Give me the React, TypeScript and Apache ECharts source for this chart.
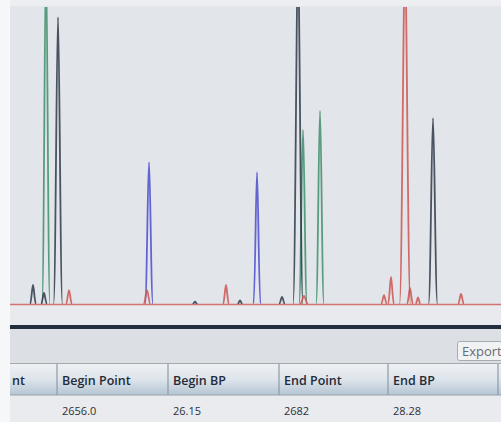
import React, { useEffect, useRef } from "react";
import * as echarts from "echarts";

// Peak data per dye channel: position (scan units), height (signal units), half-width (scan units)
const greenX = [36, 293, 310];
const greenH = [1150, 586, 650];
const greenW = [4, 4, 4];

const blueX = [139, 247];
const blueH = [478, 444];
const blueW = [4, 3.5];

const blackX = [23, 34, 48, 185, 230, 272, 288, 423];
const blackH = [64, 37, 966, 8, 12, 24, 1150, 626];
const blackW = [3, 3, 4.5, 2.5, 2.5, 3, 5, 4.5];

const redX = [59, 137, 216, 294, 374, 381, 395, 400, 408, 451];
const redH = [47, 47, 64, 27, 30, 91, 1150, 54, 22, 34];
const redW = [3, 3.5, 3, 4, 3, 3, 5.5, 3, 2.5, 3];

// Results table
const tableHeaders = ["nt", "Begin Point", "Begin BP", "End Point", "End BP"];
const tableRow = ["", "2656.0", "26.15", "2682", "28.28"];
const buttonLabel = "Export";

const colX = [10, 57, 168, 279, 388, 498];

function peakSeries(name: string, xs: number[], hs: number[], ws: number[], color: string) {
  return {
    name,
    type: "custom",
    clip: true,
    coordinateSystem: "cartesian2d",
    encode: { x: 0, y: 1 },
    data: xs.map((x, i) => [x, hs[i], ws[i]]),
    renderItem: (params: any, api: any) => {
      const c = api.value(0);
      const h = api.value(1);
      const w = api.value(2);
      const base = api.coord([c, 0]);
      const top = api.coord([c, h]);
      const hw = api.size([w, 0])[0];
      const xl = base[0] - hw;
      const xr = base[0] + hw;
      const yb = base[1];
      const yt = top[1];
      const d =
        `M${xl},${yb} C${xl + 0.45 * hw},${yb} ${base[0] - 0.3 * hw},${yt} ${base[0]},${yt} ` +
        `C${base[0] + 0.3 * hw},${yt} ${xr - 0.45 * hw},${yb} ${xr},${yb}`;
      return {
        type: "path",
        shape: { pathData: d },
        style: { stroke: color, fill: "none", lineWidth: 1.8, opacity: 0.85 },
      };
    },
  };
}

export default function App() {
  const ref = useRef<HTMLDivElement>(null);
  useEffect(() => {
    if (!ref.current) return;
    const chart = echarts.init(ref.current, undefined, { renderer: "svg" });

    const graphics: any[] = [];
    graphics.push({ type: "rect", shape: { x: 0, y: 0, width: 501, height: 6 }, style: { fill: "#eceef1" }, z: -1 });
    graphics.push({ type: "rect", shape: { x: 0, y: 305, width: 501, height: 20 }, style: { fill: "#e8eaed" } });
    graphics.push({ type: "rect", shape: { x: 0, y: 325, width: 501, height: 4 }, style: { fill: "#222d3f" } });
    graphics.push({ type: "rect", shape: { x: 0, y: 329, width: 501, height: 35 }, style: { fill: "#dcdfe3" } });
    graphics.push({ type: "line", shape: { x1: 0, y1: 363.5, x2: 501, y2: 363.5 }, style: { stroke: "#a4a9b0", lineWidth: 1 } });
    graphics.push({
      type: "rect",
      shape: { x: 0, y: 364, width: 501, height: 31 },
      style: {
        fill: new echarts.graphic.LinearGradient(0, 0, 0, 1, [
          { offset: 0, color: "#eef1f4" },
          { offset: 0.5, color: "#dde4eb" },
          { offset: 1, color: "#b5c5d3" },
        ]),
      },
    });
    graphics.push({ type: "line", shape: { x1: 0, y1: 395, x2: 501, y2: 395 }, style: { stroke: "#9aa5b1", lineWidth: 1.2 } });
    graphics.push({ type: "rect", shape: { x: 0, y: 396, width: 501, height: 26 }, style: { fill: "#e9ebee" } });
    colX.slice(1).forEach((x) => {
      graphics.push({ type: "line", shape: { x1: x, y1: 364, x2: x, y2: 395 }, style: { stroke: "#8e9aa7", lineWidth: 1.2 } });
    });
    tableHeaders.forEach((t, i) => {
      graphics.push({
        type: "text",
        x: i === 0 ? 12 : colX[i] + 5,
        y: 380,
        style: { text: t, font: "600 12.5px 'Open Sans'", fill: "#232b38", verticalAlign: "middle" },
      });
    });
    tableRow.forEach((t, i) => {
      if (!t) return;
      graphics.push({
        type: "text",
        x: colX[i] + 5,
        y: 410,
        style: { text: t, font: "11px 'Open Sans'", fill: "#2c2f35", verticalAlign: "middle" },
      });
    });
    graphics.push({
      type: "rect",
      shape: { x: 457.5, y: 341.5, width: 50, height: 19, r: 2 },
      style: { fill: "#f1f2f4", stroke: "#a7acb3", lineWidth: 1 },
    });
    graphics.push({
      type: "text",
      x: 462,
      y: 351,
      style: { text: buttonLabel, font: "13px 'Open Sans'", fill: "#676c74", verticalAlign: "middle" },
    });
    graphics.push({ type: "rect", shape: { x: 0, y: 0, width: 10, height: 422 }, style: { fill: "#f6f7f9" }, z: 100 });

    chart.setOption({
      animation: false,
      backgroundColor: "#e2e5e9",
      grid: { left: 10, right: 0, top: 7, bottom: 118 },
      xAxis: {
        type: "value",
        min: 0,
        max: 491,
        axisLine: { show: true, onZero: true, lineStyle: { color: "#d27570", width: 1.3 } },
        axisTick: { show: false },
        axisLabel: { show: false },
        splitLine: { show: false },
      },
      yAxis: {
        type: "value",
        min: 0,
        max: 1000,
        axisLine: { show: false },
        axisTick: { show: false },
        axisLabel: { show: false },
        splitLine: { show: false },
      },
      graphic: graphics,
      series: [
        peakSeries("G", greenX, greenH, greenW, "#3f8f6c"),
        peakSeries("B", blueX, blueH, blueW, "#4b4fcc"),
        peakSeries("K", blackX, blackH, blackW, "#2f3949"),
        peakSeries("R", redX, redH, redW, "#cc5350"),
      ],
    });
    return () => chart.dispose();
  }, []);
  return <div ref={ref} style={{ position: "fixed", left: 0, top: 0, width: 501, height: 422 }} />;
}
